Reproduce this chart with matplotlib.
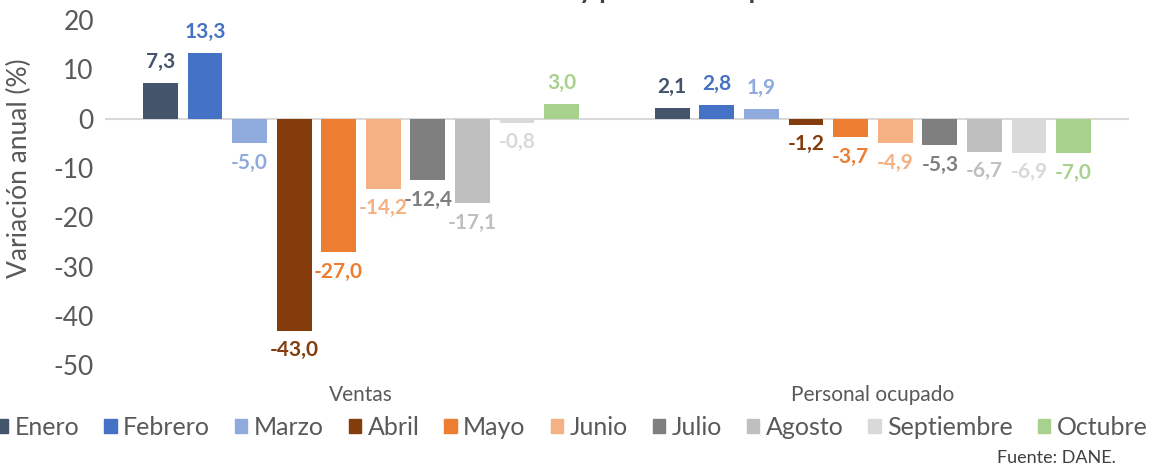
import numpy as np
import matplotlib.pyplot as plt
from matplotlib.patches import Patch

plt.rcParams['font.family'] = ['Lato', 'DejaVu Sans']
plt.rcParams['axes.unicode_minus'] = False

categories = ['Ventas', 'Personal ocupado']
months = ['Enero', 'Febrero', 'Marzo', 'Abril', 'Mayo', 'Junio', 'Julio',
          'Agosto', 'Septiembre', 'Octubre']
ventas = [7.3, 13.3, -5.0, -43.0, -27.0, -14.2, -12.4, -17.1, -0.8, 3.0]
personal = [2.1, 2.8, 1.9, -1.2, -3.7, -4.9, -5.3, -6.7, -6.9, -7.0]
colors = ['#44546A', '#4472C4', '#8FAADC', '#843C0C', '#ED7D31', '#F4B183',
          '#7F7F7F', '#BFBFBF', '#D9D9D9', '#A9D18E']

values = np.array([ventas, personal])  # shape (2, 10)

fig = plt.figure(figsize=(11.5, 4.67), dpi=100)
ax = fig.add_axes([0.0913, 0.218, 0.8904, 0.739])

step = 0.0871
width = 0.068
x = np.arange(len(categories))
for j, m in enumerate(months):
    xs = x + (j - 4.5) * step
    ax.bar(xs, values[:, j], width, color=colors[j], zorder=2)
    for xi, v in zip(xs, values[:, j]):
        lab = f'{v:.1f}'.replace('.', ',')
        if v >= 0:
            ax.annotate(lab, (xi, v), xytext=(0, 8), textcoords='offset points',
                        ha='center', va='bottom', fontsize=15, fontweight='bold',
                        color=colors[j])
        else:
            ax.annotate(lab, (xi, v), xytext=(0, -7), textcoords='offset points',
                        ha='center', va='top', fontsize=15, fontweight='bold',
                        color=colors[j])

ax.axhline(0, color='#D9D9D9', lw=1.5, zorder=1)
ax.set_xlim(-0.5, 1.5)
ax.set_ylim(-50, 20)
ax.set_yticks(range(-50, 21, 10))
for s in ax.spines.values():
    s.set_visible(False)
ax.tick_params(axis='y', length=0, labelsize=19, labelcolor='#595959', pad=8)
ax.set_xticks(x)
ax.set_xticklabels(categories)
ax.tick_params(axis='x', length=0, labelsize=15, labelcolor='#595959', pad=14)

fig.text(0.017, 0.64, 'Variación anual (%)', rotation=90, ha='center', va='center',
         fontsize=19, color='#595959')

handles = [Patch(color=c) for c in colors]
fig.legend(handles, months, loc='center', bbox_to_anchor=(0.497, 0.085), ncol=10,
           frameon=False, fontsize=18, handlelength=0.5, handleheight=0.5,
           handletextpad=0.25, columnspacing=1.0, labelcolor='#595959')

fig.text(0.97, 0.02, 'Fuente: DANE.', ha='right', va='center', fontsize=13,
         color='#404040')

fig.text(0.47, 1.002, 'Variación anual de ventas y personal ocupado', ha='center',
         va='baseline', fontsize=19, fontweight='bold', color='#404040')

fig.savefig('out.png', dpi=100)
